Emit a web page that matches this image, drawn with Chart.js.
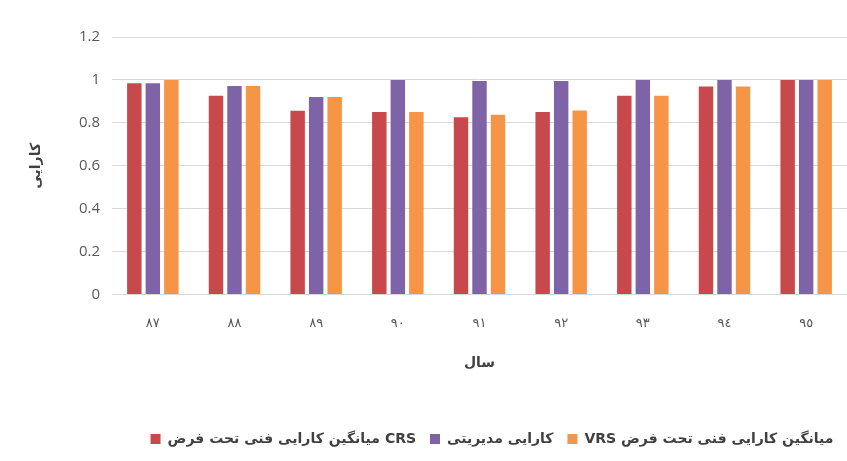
<!DOCTYPE html>
<html>
<head>
<meta charset="utf-8">
<script src="https://cdn.jsdelivr.net/npm/chart.js@4/dist/chart.umd.min.js"></script>
<style>
  html, body { margin: 0; padding: 0; background: #ffffff; overflow: hidden; }
  #wrap { width: 847px; height: 461px; }
</style>
</head>
<body>
<div id="wrap"><canvas id="chart" width="847" height="461"></canvas></div>
<script>
// سال‌ها (محور افقی)
const years = ['٨٧', '٨٨', '٨٩', '٩٠', '٩١', '٩٢', '٩٣', '٩٤', '٩٥'];

// مقادیر خوانده شده از تصویر
const crsValues = [0.985, 0.926, 0.857, 0.851, 0.826, 0.851, 0.926, 0.969, 1];
const managerialValues = [0.985, 0.972, 0.92, 1, 0.995, 0.995, 1, 1, 1];
const vrsValues = [1, 0.972, 0.92, 0.851, 0.838, 0.858, 0.926, 0.969, 1];

const seriesLabels = [
    'میانگین کارایی فنی تحت فرض CRS',
    'کارایی مدیریتی',
    'VRS میانگین کارایی فنی تحت فرض'
];

const yTicks = [0, 0.2, 0.4, 0.6, 0.8, 1, 1.2];

const textColor = '#595959';
const persianFont = '"DejaVu Sans", sans-serif';

// جابجایی افقی راهنما (در تصویر اصلی کمی به راست است)
const legendShift = {
    id: 'legendShift',
    afterLayout(chart) {
        const lg = chart.legend;
        if (!lg) return;
        lg.left += 52;
        lg.right += 52;
    }
};

const ctx = document.getElementById('chart');

new Chart(ctx, {
    type: 'bar',
    data: {
        labels: years,
        datasets: [
            { label: seriesLabels[0], data: crsValues, backgroundColor: '#c8494b' },
            { label: seriesLabels[1], data: managerialValues, backgroundColor: '#7f63a7' },
            { label: seriesLabels[2], data: vrsValues, backgroundColor: '#f69545' }
        ]
    },
    plugins: [legendShift],
    options: {
        responsive: false,
        animation: false,
        devicePixelRatio: 1,
        categoryPercentage: 0.68,
        barPercentage: 0.78,
        layout: { padding: { top: 37, right: -5, left: 28, bottom: 5 } },
        plugins: {
            tooltip: { enabled: false },
            legend: {
                position: 'bottom',
                labels: {
                    boxWidth: 10,
                    boxHeight: 10,
                    padding: 14,
                    color: '#404040',
                    font: { family: persianFont, size: 14, weight: 'bold' }
                }
            }
        },
        scales: {
            x: {
                grid: { display: false, drawTicks: false },
                border: { color: '#d9d9d9' },
                ticks: {
                    color: textColor,
                    padding: 21,
                    font: { family: persianFont, size: 13 }
                },
                title: {
                    display: true,
                    text: 'سال',
                    color: '#404040',
                    padding: { top: 3, bottom: 46 },
                    font: { family: persianFont, size: 14, weight: 'bold' }
                }
            },
            y: {
                min: 0,
                max: 1.2,
                afterFit: function(scale) { scale.width = 112 - 28; },
                afterBuildTicks: function(scale) {
                    scale.ticks = yTicks.map(v => ({ value: v }));
                },
                grid: { color: '#d9d9d9', drawTicks: false },
                border: { display: false },
                ticks: {
                    color: textColor,
                    padding: 12,
                    font: { family: '"Open Sans", sans-serif', size: 15 },
                    callback: function(value) {
                        return String(parseFloat(Number(value).toFixed(1)));
                    }
                },
                title: {
                    display: true,
                    text: 'کارایی',
                    color: '#404040',
                    padding: { top: 0, bottom: 0 },
                    font: { family: persianFont, size: 14, weight: 'bold' }
                }
            }
        }
    }
});
</script>
</body>
</html>
